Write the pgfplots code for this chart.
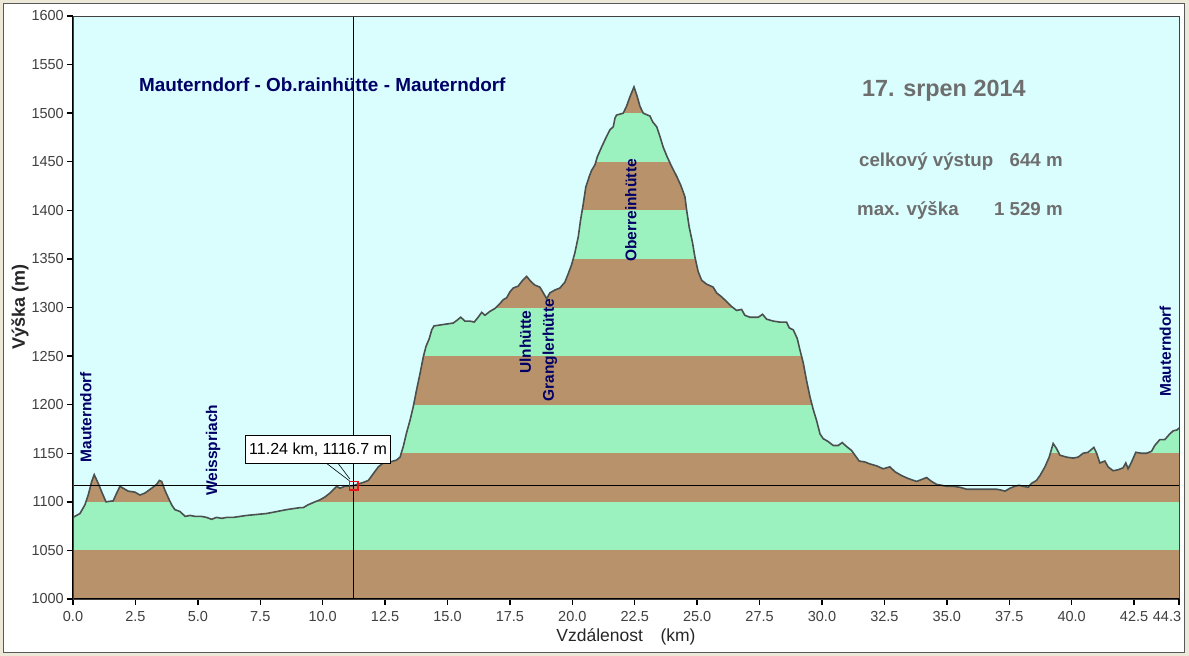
\documentclass[border=0pt]{standalone}
\usepackage{fontspec}
\setmainfont{Liberation Sans}
\usepackage{pgfplots}
\pgfplotsset{compat=1.18}
\usepackage{pgfplotstable}
\definecolor{bandbrown}{RGB}{184,146,106}
\definecolor{bandgreen}{RGB}{156,242,190}
\definecolor{skycyan}{RGB}{218,254,254}
\definecolor{profline}{RGB}{74,80,80}
\definecolor{navy}{RGB}{0,0,102}
\definecolor{infogray}{RGB}{110,110,110}
\definecolor{framebeige}{RGB}{236,233,216}
\definecolor{markred}{RGB}{230,20,20}

\pgfplotstableread{
km ele
0.00 1084
0.28 1088
0.48 1097
0.61 1107
0.75 1121
0.85 1128
1.01 1119
1.17 1109
1.32 1100
1.61 1101
1.75 1109
1.88 1116
2.01 1114
2.21 1111
2.48 1110
2.68 1107
2.88 1109
3.15 1114
3.35 1118
3.46 1122
3.55 1121
3.68 1112
3.82 1104
3.95 1097
4.08 1092
4.29 1090
4.49 1085
4.69 1086
4.89 1085
5.15 1085
5.35 1084
5.55 1082
5.75 1084
5.96 1083
6.16 1084
6.42 1084
6.69 1085
6.96 1086
7.36 1087
7.76 1088
8.16 1090
8.56 1092
8.82 1093
9.09 1094
9.22 1094
9.42 1097
9.69 1100
9.89 1102
10.09 1105
10.29 1109
10.49 1114
10.56 1116
10.69 1114
10.89 1116
11.24 1116.7
11.63 1120
11.83 1122
12.03 1129
12.23 1136
12.43 1140
12.70 1141
12.96 1143
13.10 1146
13.23 1157
13.36 1171
13.50 1184
13.63 1198
13.76 1215
13.90 1232
14.03 1249
14.14 1260
14.27 1268
14.37 1277
14.46 1281
14.70 1282
14.97 1283
15.23 1284
15.39 1287
15.53 1290
15.70 1286
15.90 1286
16.07 1285
16.23 1290
16.37 1295
16.50 1292
16.70 1296
16.90 1299
17.10 1304
17.23 1308
17.37 1310
17.50 1316
17.63 1320
17.83 1322
18.01 1328
18.17 1332
18.33 1327
18.50 1323
18.70 1321
18.84 1315
18.97 1309
19.10 1315
19.30 1318
19.50 1320
19.70 1326
19.84 1335
19.97 1344
20.10 1356
20.24 1373
20.33 1390
20.44 1407
20.54 1424
20.68 1435
20.77 1441
20.91 1447
21.00 1455
21.17 1465
21.37 1476
21.51 1483
21.64 1486
21.71 1495
21.77 1498
22.04 1500
22.17 1507
22.31 1517
22.47 1527
22.60 1517
22.71 1507
22.84 1500
23.11 1497
23.22 1491
23.38 1486
23.51 1476
23.64 1465
23.80 1455
23.98 1445
24.18 1435
24.34 1426
24.51 1414
24.58 1400
24.68 1383
24.82 1366
24.91 1352
25.04 1337
25.18 1328
25.38 1324
25.64 1321
25.78 1315
25.98 1311
26.18 1306
26.38 1301
26.58 1297
26.78 1298
26.91 1292
27.11 1290
27.45 1290
27.62 1293
27.78 1288
28.05 1286
28.31 1285
28.58 1285
28.69 1279
28.85 1277
29.01 1268
29.12 1256
29.25 1243
29.38 1225
29.52 1208
29.65 1195
29.78 1184
29.92 1170
30.05 1165
30.25 1162
30.45 1158
30.65 1158
30.81 1161
30.98 1157
31.18 1153
31.32 1148
31.49 1142
31.72 1141
31.92 1139
32.19 1137
32.45 1134
32.72 1136
32.92 1131
33.19 1127
33.45 1124
33.79 1121
33.99 1123
34.19 1125
34.39 1121
34.59 1118
34.79 1117
34.99 1116
35.25 1116
35.52 1115
35.79 1113
36.19 1113
36.59 1113
36.99 1113
37.19 1112
37.33 1111
37.53 1114
37.73 1116
37.89 1117
38.06 1116
38.26 1115
38.39 1119
38.59 1122
38.73 1127
38.93 1136
39.10 1146
39.26 1160
39.39 1155
39.53 1148
39.80 1146
40.06 1145
40.26 1146
40.46 1150
40.66 1151
40.89 1156
41.00 1150
41.13 1140
41.33 1142
41.46 1136
41.66 1132
41.86 1133
42.06 1135
42.17 1140
42.26 1134
42.40 1141
42.57 1151
42.80 1150
43.00 1150
43.20 1152
43.33 1158
43.53 1164
43.73 1164
43.90 1169
44.06 1173
44.22 1174
44.30 1176
}\prof

\newcommand{\tickfont}{\fontsize{14.5bp}{17bp}\selectfont}
\newcommand{\placefont}{\fontsize{15.5bp}{18bp}\selectfont\bfseries}
\newcommand{\infofont}{\fontsize{18.7bp}{22bp}\selectfont\bfseries}

\begin{document}
\begin{tikzpicture}
\useasboundingbox (0,0) rectangle (1189bp,656bp);
\fill[framebeige] (0,0) rectangle (1189bp,656bp);
\draw[fill=white, draw=black!65, line width=1bp] (3bp,3.5bp) rectangle (1184bp,652bp);
\begin{axis}[
  at={(73bp,57bp)}, anchor=south west,
  scale only axis, width=1106bp, height=583bp,
  xmin=0, xmax=44.3, ymin=1000, ymax=1600,
  clip=false, axis on top,
  xtick={0,2.5,5,7.5,10,12.5,15,17.5,20,22.5,25,27.5,30,32.5,35,37.5,40,42.5},
  xticklabels={0.0,2.5,5.0,7.5,10.0,12.5,15.0,17.5,20.0,22.5,25.0,27.5,30.0,32.5,35.0,37.5,40.0,42.5},
  extra x ticks={44.3},
  extra x tick labels={44.3},
  extra x tick style={xticklabel style={xshift=-12bp}},
  ytick={1000,1050,1100,1150,1200,1250,1300,1350,1400,1450,1500,1550,1600},
  yticklabels={1000,1050,1100,1150,1200,1250,1300,1350,1400,1450,1500,1550,1600},
  tick pos=left, tick align=outside, major tick length=6bp,
  every tick/.style={black, line width=1.4bp},
  axis line style={black!75, line width=0.8bp},
  xticklabel style={font=\tickfont, text=black!75, inner sep=0pt, anchor=north, yshift=-6bp},
  yticklabel style={font=\tickfont, text=black!75, inner sep=0pt, anchor=east, xshift=-3bp},
]
% elevation bands
\addplot[fill=bandbrown, draw=none] coordinates {(0,1000) (44.3,1000) (44.3,1600) (0,1600)};
\addplot[fill=bandgreen, draw=none] coordinates {(0,1050) (44.3,1050) (44.3,1100) (0,1100)};
\addplot[fill=bandgreen, draw=none] coordinates {(0,1150) (44.3,1150) (44.3,1200) (0,1200)};
\addplot[fill=bandgreen, draw=none] coordinates {(0,1250) (44.3,1250) (44.3,1300) (0,1300)};
\addplot[fill=bandgreen, draw=none] coordinates {(0,1350) (44.3,1350) (44.3,1400) (0,1400)};
\addplot[fill=bandgreen, draw=none] coordinates {(0,1450) (44.3,1450) (44.3,1500) (0,1500)};
% sky above profile
\addplot[fill=skycyan, draw=none] table[x=km,y=ele]{\prof} -- (axis cs:44.3,1600) -- (axis cs:0,1600) -- cycle;
% profile line
\addplot[profline, line width=1.6bp] table[x=km,y=ele]{\prof};
% crosshair
\addplot[black, line width=0.8bp] coordinates {(11.24,1000) (11.24,1600)};
\addplot[black, line width=0.8bp] coordinates {(0,1116.7) (44.3,1116.7)};
% thick left/bottom axis
\draw[black, line width=2.2bp] (rel axis cs:0,1) -- (rel axis cs:0,0) -- (rel axis cs:1,0);
% place labels
\node[rotate=90, anchor=base west, text=navy, font=\placefont, inner sep=0pt] at (axis cs:0.74,1140.5) {Mauterndorf};
\node[rotate=90, anchor=base west, text=navy, font=\placefont, inner sep=0pt] at (axis cs:5.77,1106) {Weisspriach};
\node[rotate=90, anchor=base west, text=navy, font=\placefont, inner sep=0pt] at (axis cs:18.34,1231.5) {Ulnhütte};
\node[rotate=90, anchor=base west, text=navy, font=\placefont, inner sep=0pt] at (axis cs:19.26,1203) {Granglerhütte};
\node[rotate=90, anchor=base west, text=navy, font=\placefont, inner sep=0pt] at (axis cs:22.57,1347) {Oberreinhütte};
\node[rotate=90, anchor=base west, text=navy, font=\placefont, inner sep=0pt] at (axis cs:43.97,1208) {Mauterndorf};
% title and info
\node[anchor=base west, text=navy, inner sep=0pt, font=\fontsize{18.9bp}{22bp}\selectfont\bfseries] at (axis cs:2.64,1522) {Mauterndorf - Ob.rainhütte - Mauterndorf};
\node[anchor=base west, text=infogray, inner sep=0pt, font=\fontsize{23.4bp}{27bp}\selectfont\bfseries] at (axis cs:31.60,1517.6) {17. srpen 2014};
\node[anchor=base west, text=infogray, inner sep=0pt, font=\infofont] at (axis cs:31.48,1445.6) {celkový výstup};
\node[anchor=base east, text=infogray, inner sep=0pt, font=\infofont] at (axis cs:39.65,1445.6) {644 m};
\node[anchor=base west, text=infogray, inner sep=0pt, font=\infofont] at (axis cs:31.40,1395.1) {max. výška};
\node[anchor=base east, text=infogray, inner sep=0pt, font=\infofont] at (axis cs:39.65,1395.1) {1 529 m};
% callout
\draw[black, line width=0.6bp] (axis cs:10.16,1139.5) -- (axis cs:11.07,1121.7);
\draw[black, line width=0.6bp] (axis cs:10.62,1139.5) -- (axis cs:11.09,1123.5);
\node[draw=black, line width=0.6bp, fill=white, inner sep=0pt, minimum width=145bp, minimum height=28bp, font=\fontsize{16bp}{19bp}\selectfont] at (axis cs:9.82,1154) {11.24 km, 1116.7 m};
% cursor marker
\addplot[color=markred, only marks, mark=square, mark size=4.3bp, mark options={solid, draw=markred, line width=1.4bp}] coordinates {(11.24,1116.7)};
\addplot[color=black, only marks, mark=+, mark size=2.4bp, mark options={solid, draw=black, line width=0.8bp}] coordinates {(11.24,1116.7)};
\end{axis}
\node[anchor=center, font=\fontsize{17.5bp}{20bp}\selectfont, text=black!85] at (626bp,19.3bp) {Vzdálenost\hspace{1em}(km)};
\node[anchor=center, rotate=90, font=\fontsize{18bp}{21bp}\selectfont\bfseries, text=black!85] at (20bp,349.3bp) {Výška (m)};
\end{tikzpicture}
\end{document}
